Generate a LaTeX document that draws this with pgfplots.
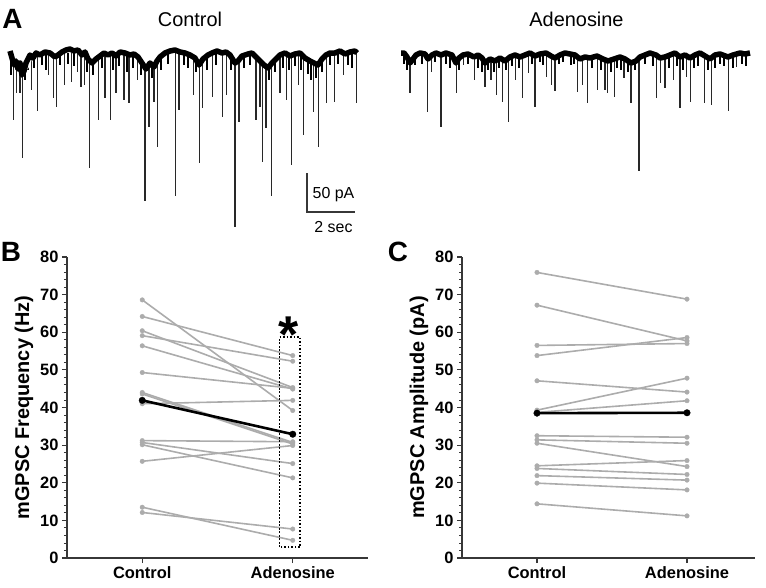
\documentclass[border=0pt]{standalone}
\usepackage{pgfplots}
\usepackage{pgfplotstable}
\pgfplotsset{compat=1.18}
\usepackage{fontspec}
\setmainfont{Liberation Sans}
\definecolor{indiv}{RGB}{172,172,172}
\definecolor{axisgray}{RGB}{55,55,55}
\definecolor{spk}{RGB}{40,40,40}
\pgfplotsset{
  ind/.style={indiv, line width=1.6bp, mark=*, mark size=2.3bp, mark options={solid, fill=indiv, draw=indiv, line width=0.3bp}},
  meanl/.style={black, line width=2.6bp, mark=*, mark size=3.3bp, mark options={solid, fill=black, draw=black, line width=0.3bp}},
  panel/.style={scale only axis, anchor=south west, ymin=0, ymax=80,
    axis x line*=bottom, axis y line*=left,
    xtick={0,1}, xticklabels={Control,Adenosine},
    ytick={0,10,...,80}, minor y tick num=4,
    tick align=outside, major tick length=5bp, minor tick length=3bp,
    axis line style={axisgray, line width=1.3bp},
    major tick style={axisgray, line width=1.2bp},
    minor tick style={axisgray, line width=0.9bp},
    /pgf/number format/assume math mode=true,
    tick label style={font=\bfseries\fontsize{16.5}{18}\selectfont},
    ylabel style={font=\bfseries\fontsize{20}{22}\selectfont},
    clip=false},
  trace/.style={black, line width=5.5bp, line join=round, mark=none},
  mask/.style={white, line width=14bp, line join=round, mark=none},
  spikes/.style={spk, line width=1.1bp, mark=none, unbounded coords=jump},
  small/.style={black, line width=1.3bp, mark=none, unbounded coords=jump}
}
% baselines of the two recordings
\pgfplotstableread{
x y
10 -1
12 -8
14 -15
16 -11
18 -19
20 -13
22 -25
24 -21
26 -13
28 -9
30 -5
33 -8
36 -3
40 -5
45 -2
50 -3
55 -7
58 -5
62 -2
66 0
70 1
74 -1
78 0
82 -5
85 -2
88 -9
92 -13
96 -9
100 -6
104 -3
108 -5
112 -3
116 -6
120 -2
125 -3
130 -5
134 -4
138 -7
142 -13
146 -19
150 -13
154 -17
157 -11
160 -7
165 -3
170 -1
175 0
180 -2
185 -3
190 -5
195 -8
199 -15
203 -9
208 -5
212 -3
217 -1
222 -3
226 -2
230 -5
235 -13
238 -11
242 -6
248 -4
252 -3
256 -7
260 -11
264 -15
268 -18
272 -13
276 -9
280 -5
285 -3
290 -6
295 -4
300 -3
305 -8
310 -11
314 -13
318 -15
322 -9
326 -5
330 -3
335 -3
340 -1
345 -4
350 -2
355 -1
357 -3
}\ctlbase
\pgfplotstableread{
x y
401 -3
404 -3
407 -7
410 -13
413 -9
416 -5
420 -3
425 -4
428 -9
432 -5
436 -3
441 -5
446 -3
452 -5
456 -13
459 -8
463 -5
468 -4
474 -7
478 -5
482 -8
485 -13
490 -9
495 -11
500 -8
505 -11
510 -7
515 -5
520 -7
525 -5
530 -3
535 -6
540 -4
546 -3
551 -6
555 -8
560 -5
565 -3
570 -4
575 -5
580 -9
585 -7
590 -8
597 -6
603 -9
608 -11
614 -9
620 -7
625 -9
631 -13
636 -11
640 -7
645 -5
650 -3
656 -5
660 -8
665 -7
670 -5
675 -3
680 -7
685 -5
690 -8
695 -5
700 -3
705 -6
710 -9
715 -5
720 -4
728 -7
733 -5
740 -3
745 -4
750 -3
}\adobase
\begin{document}
\begin{tikzpicture}
% ---------------- Panel A: traces ----------------
\begin{axis}[at={(0bp,-230bp)}, anchor=south west, scale only axis,
  width=766bp, height=185bp, xmin=0, xmax=766, ymin=-180, ymax=5,
  hide axis, clip=false]
% control small events
\addplot[small] coordinates {
(11,-3) (11,-25) (11,nan) (25,-3) (25,-30) (25,nan) (28,-3) (28,-20) (28,nan) (34,-3) (34,-18) (34,nan)
(42,-3) (42,-15) (42,nan) (46,-3) (46,-20) (46,nan) (60,-3) (60,-15) (60,nan) (68,-3) (68,-14) (68,nan)
(74,-3) (74,-16) (74,nan) (87,-3) (87,-22) (87,nan) (93,-3) (93,-25) (93,nan) (102,-3) (102,-18) (102,nan)
(113,-3) (113,-20) (113,nan) (119,-3) (119,-16) (119,nan) (127,-3) (127,-22) (127,nan) (133,-3) (133,-18) (133,nan)
(141,-3) (141,-25) (141,nan) (152,-3) (152,-28) (152,nan) (161,-3) (161,-20) (161,nan) (168,-3) (168,-14) (168,nan)
(184,-3) (184,-15) (184,nan) (188,-3) (188,-18) (188,nan) (196,-3) (196,-22) (196,nan) (207,-3) (207,-20) (207,nan)
(216,-3) (216,-15) (216,nan) (231,-3) (231,-20) (231,nan) (244,-3) (244,-18) (244,nan) (250,-3) (250,-15) (250,nan)
(269,-3) (269,-30) (269,nan) (275,-3) (275,-22) (275,nan) (283,-3) (283,-18) (283,nan) (289,-3) (289,-20) (289,nan)
(295,-3) (295,-16) (295,nan) (301,-3) (301,-20) (301,nan) (308,-3) (308,-24) (308,nan) (311,-3) (311,-30) (311,nan)
(316,-3) (316,-28) (316,nan) (322,-3) (322,-22) (322,nan) (330,-3) (330,-15) (330,nan) (338,-3) (338,-14) (338,nan)
(348,-3) (348,-15) (348,nan) (352,-3) (352,-18)};
% control events
\addplot[spikes] coordinates {
(13.3,-3) (13.3,-70) (13.3,nan) (16.7,-3) (16.7,-43) (16.7,nan) (20,-3) (20,-43) (20,nan)
(22.3,-3) (22.3,-108) (22.3,nan) (31.7,-3) (31.7,-40) (31.7,nan) (37.3,-3) (37.3,-61) (37.3,nan)
(48.3,-3) (48.3,-25) (48.3,nan) (53.3,-3) (53.3,-48) (53.3,nan) (56.7,-3) (56.7,-57) (56.7,nan)
(64.3,-3) (64.3,-35) (64.3,nan) (71.7,-3) (71.7,-32) (71.7,nan) (77.7,-3) (77.7,-22) (77.7,nan)
(81,-3) (81,-37) (81,nan) (84.3,-3) (84.3,-35) (84.3,nan) (89.3,-3) (89.3,-118) (89.3,nan)
(98.3,-3) (98.3,-70) (98.3,nan) (105,-3) (105,-48) (105,nan) (110.7,-3) (110.7,-70) (110.7,nan)
(116,-3) (116,-43) (116,nan) (124,-3) (124,-50) (124,nan) (129,-3) (129,-53) (129,nan)
(137.7,-3) (137.7,-30) (137.7,nan) (145,-3) (145,-151) (145,nan) (149,-3) (149,-77) (149,nan)
(154,-3) (154,-52) (154,nan) (157.3,-3) (157.3,-97) (157.3,nan) (175.7,-3) (175.7,-146) (175.7,nan)
(179,-3) (179,-60) (179,nan) (193.3,-3) (193.3,-45) (193.3,nan) (199.3,-3) (199.3,-113) (199.3,nan)
(202.7,-3) (202.7,-58) (202.7,nan) (212.7,-3) (212.7,-47) (212.7,nan) (222.3,-3) (222.3,-67) (222.3,nan)
(226.7,-3) (226.7,-45) (226.7,nan) (235,-3) (235,-177) (235,nan) (239,-3) (239,-72) (239,nan)
(256,-3) (256,-70) (256,nan) (260,-3) (260,-57) (260,nan) (262.7,-3) (262.7,-112) (262.7,nan)
(266,-3) (266,-78) (266,nan) (271.7,-3) (271.7,-146) (271.7,nan) (280,-3) (280,-43) (280,nan)
(286.7,-3) (286.7,-50) (286.7,nan) (291.7,-3) (291.7,-115) (291.7,nan) (298.3,-3) (298.3,-35) (298.3,nan)
(303.3,-3) (303.3,-85) (303.3,nan) (313.3,-3) (313.3,-62) (313.3,nan) (318.3,-3) (318.3,-97) (318.3,nan)
(326.7,-3) (326.7,-53) (326.7,nan) (334.3,-3) (334.3,-52) (334.3,nan) (343.3,-3) (343.3,-25) (343.3,nan)
(356.5,-3) (356.5,-53)};
% adenosine small events
\addplot[small] coordinates {
(404,-3) (404,-14) (404,nan) (407,-3) (407,-20) (407,nan) (415,-3) (415,-15) (415,nan) (422,-3) (422,-14) (422,nan)
(435,-3) (435,-12) (435,nan) (446,-3) (446,-14) (446,nan) (450,-3) (450,-18) (450,nan) (459,-3) (459,-20) (459,nan)
(468,-3) (468,-14) (468,nan) (478,-3) (478,-18) (478,nan) (482,-3) (482,-22) (482,nan) (488,-3) (488,-20) (488,nan)
(494,-3) (494,-22) (494,nan) (499,-3) (499,-18) (499,nan) (506,-3) (506,-20) (506,nan) (512,-3) (512,-16) (512,nan)
(519,-3) (519,-18) (519,nan) (532,-3) (532,-14) (532,nan) (540,-3) (540,-12) (540,nan) (543,-3) (543,-15) (543,nan)
(559,-3) (559,-14) (559,nan) (563,-3) (563,-12) (563,nan) (571,-3) (571,-15) (571,nan) (574,-3) (574,-14) (574,nan)
(592,-3) (592,-18) (592,nan) (601,-3) (601,-20) (601,nan) (611,-3) (611,-22) (611,nan) (617,-3) (617,-18) (617,nan)
(621,-3) (621,-20) (621,nan) (628,-3) (628,-22) (628,nan) (635,-3) (635,-20) (635,nan) (645,-3) (645,-14) (645,nan)
(653,-3) (653,-16) (653,nan) (669,-3) (669,-18) (669,nan) (677,-3) (677,-16) (677,nan) (683,-3) (683,-20) (683,nan)
(694,-3) (694,-18) (694,nan) (698,-3) (698,-16) (698,nan) (708,-3) (708,-20) (708,nan) (715,-3) (715,-18) (715,nan)
(720,-3) (720,-14) (720,nan) (724,-3) (724,-16) (724,nan) (733,-3) (733,-18) (733,nan) (742,-3) (742,-14) (742,nan)
(746,-3) (746,-16)};
% adenosine events
\addplot[spikes] coordinates {
(410,-3) (410,-43) (410,nan) (427.3,-3) (427.3,-62) (427.3,nan) (431.7,-3) (431.7,-22) (431.7,nan)
(441,-3) (441,-77) (441,nan) (456.7,-3) (456.7,-43) (456.7,nan) (463.3,-3) (463.3,-15) (463.3,nan)
(474.3,-3) (474.3,-30) (474.3,nan) (485,-3) (485,-37) (485,nan) (491,-3) (491,-30) (491,nan)
(496.7,-3) (496.7,-45) (496.7,nan) (502.7,-3) (502.7,-52) (502.7,nan) (508.3,-3) (508.3,-72) (508.3,nan)
(515.7,-3) (515.7,-30) (515.7,nan) (522.7,-3) (522.7,-48) (522.7,nan) (528.3,-3) (528.3,-23) (528.3,nan)
(535,-3) (535,-57) (535,nan) (546.7,-3) (546.7,-27) (546.7,nan) (551.7,-3) (551.7,-35) (551.7,nan)
(555,-3) (555,-41) (555,nan) (577.3,-3) (577.3,-42) (577.3,nan) (582.7,-3) (582.7,-35) (582.7,nan)
(587.3,-3) (587.3,-53) (587.3,nan) (597.3,-3) (597.3,-40) (597.3,nan) (605,-3) (605,-40) (605,nan)
(607.7,-3) (607.7,-43) (607.7,nan) (614.3,-3) (614.3,-47) (614.3,nan) (624,-3) (624,-28) (624,nan)
(631,-3) (631,-53) (631,nan) (639,-3) (639,-121) (639,nan) (656.7,-3) (656.7,-48) (656.7,nan)
(660.7,-3) (660.7,-33) (660.7,nan) (665,-3) (665,-38) (665,nan) (673.3,-3) (673.3,-30) (673.3,nan)
(680,-3) (680,-58) (680,nan) (686.7,-3) (686.7,-27) (686.7,nan) (690.7,-3) (690.7,-52) (690.7,nan)
(704.3,-3) (704.3,-53) (704.3,nan) (711.7,-3) (711.7,-55) (711.7,nan) (728.3,-3) (728.3,-61) (728.3,nan)
(736.7,-3) (736.7,-17)};
% trim event starts above the baseline, then the baselines themselves
\addplot[mask] table[x=x, y expr=\thisrow{y}+9.75] {\ctlbase};
\addplot[mask] table[x=x, y expr=\thisrow{y}+9.75] {\adobase};
\addplot[trace] table[x=x, y=y] {\ctlbase};
\addplot[trace] table[x=x, y=y] {\adobase};
% scale bar (50 pA, 2 sec)
\addplot[axisgray, line width=1.2bp, mark=none] coordinates {(307,-123) (307,-162) (355,-162)};
\end{axis}

% ---------------- Panel B ----------------
\begin{axis}[panel, at={(67bp,-558bp)}, width=301bp, height=301bp,
  xmin=-0.5, xmax=1.5, ylabel={mGPSC Frequency (Hz)}]
\addplot[ind] coordinates {(0,68.6) (1,39.2)};
\addplot[ind] coordinates {(0,64.2) (1,53.8)};
\addplot[ind] coordinates {(0,60.4) (1,45.3)};
\addplot[ind] coordinates {(0,59.1) (1,52.3)};
\addplot[ind] coordinates {(0,56.4) (1,44.9)};
\addplot[ind] coordinates {(0,49.3) (1,45.1)};
\addplot[ind] coordinates {(0,44.0) (1,30.7)};
\addplot[ind] coordinates {(0,43.6) (1,30.3)};
\addplot[ind] coordinates {(0,41.0) (1,41.9)};
\addplot[ind] coordinates {(0,31.2) (1,30.9)};
\addplot[ind] coordinates {(0,30.7) (1,25.1)};
\addplot[ind] coordinates {(0,30.1) (1,21.3)};
\addplot[ind] coordinates {(0,25.7) (1,29.9)};
\addplot[ind] coordinates {(0,13.5) (1,4.7)};
\addplot[ind] coordinates {(0,12.1) (1,7.7)};
\addplot[meanl] coordinates {(0,41.9) (1,32.9)};
\draw[black, line width=1.6bp, dash pattern=on 1.6bp off 1.9bp] (axis cs:0.913,2.9) rectangle (axis cs:1.05,58.7);
\end{axis}

% ---------------- Panel C ----------------
\begin{axis}[panel, at={(462bp,-558bp)}, width=292.5bp, height=301bp,
  xmin=-0.5, xmax=1.45, ylabel={mGPSC Amplitude (pA)}]
\addplot[ind] coordinates {(0,75.9) (1,68.8)};
\addplot[ind] coordinates {(0,67.2) (1,57.7)};
\addplot[ind] coordinates {(0,56.5) (1,57.0)};
\addplot[ind] coordinates {(0,53.8) (1,58.6)};
\addplot[ind] coordinates {(0,47.1) (1,44.1)};
\addplot[ind] coordinates {(0,39.3) (1,47.8)};
\addplot[ind] coordinates {(0,38.7) (1,41.8)};
\addplot[ind] coordinates {(0,32.5) (1,32.1)};
\addplot[ind] coordinates {(0,31.4) (1,30.5)};
\addplot[ind] coordinates {(0,30.5) (1,24.3)};
\addplot[ind] coordinates {(0,24.5) (1,25.9)};
\addplot[ind] coordinates {(0,23.8) (1,22.2)};
\addplot[ind] coordinates {(0,21.9) (1,20.7)};
\addplot[ind] coordinates {(0,19.9) (1,18.1)};
\addplot[ind] coordinates {(0,14.4) (1,11.2)};
\addplot[meanl] coordinates {(0,38.5) (1,38.6)};
\end{axis}

% ---------------- Texts ----------------
\node[font=\bfseries\fontsize{28}{30}\selectfont, anchor=base, inner sep=0pt] at (12.5bp,-28bp) {A};
\node[font=\bfseries\fontsize{28}{30}\selectfont, anchor=base, inner sep=0pt] at (11bp,-261bp) {B};
\node[font=\bfseries\fontsize{28}{30}\selectfont, anchor=base, inner sep=0pt] at (398bp,-261bp) {C};
\node[font=\fontsize{20}{22}\selectfont, anchor=base, inner sep=0pt] at (190bp,-26.2bp) {Control};
\node[font=\fontsize{20}{22}\selectfont, anchor=base, inner sep=0pt] at (576.5bp,-26.2bp) {Adenosine};
\node[font=\fontsize{16}{18}\selectfont, anchor=base west, inner sep=0pt] at (312.5bp,-198.7bp) {50 pA};
\node[font=\fontsize{16}{18}\selectfont, anchor=base, inner sep=0pt] at (333.5bp,-232.7bp) {2 sec};
\node[font=\bfseries\fontsize{52}{52}\selectfont, anchor=base, inner sep=0pt] at (289bp,-352bp) {*};

\pgfresetboundingbox
\path[use as bounding box] (0bp,0bp) rectangle (766bp,-588bp);
\end{tikzpicture}
\end{document}
